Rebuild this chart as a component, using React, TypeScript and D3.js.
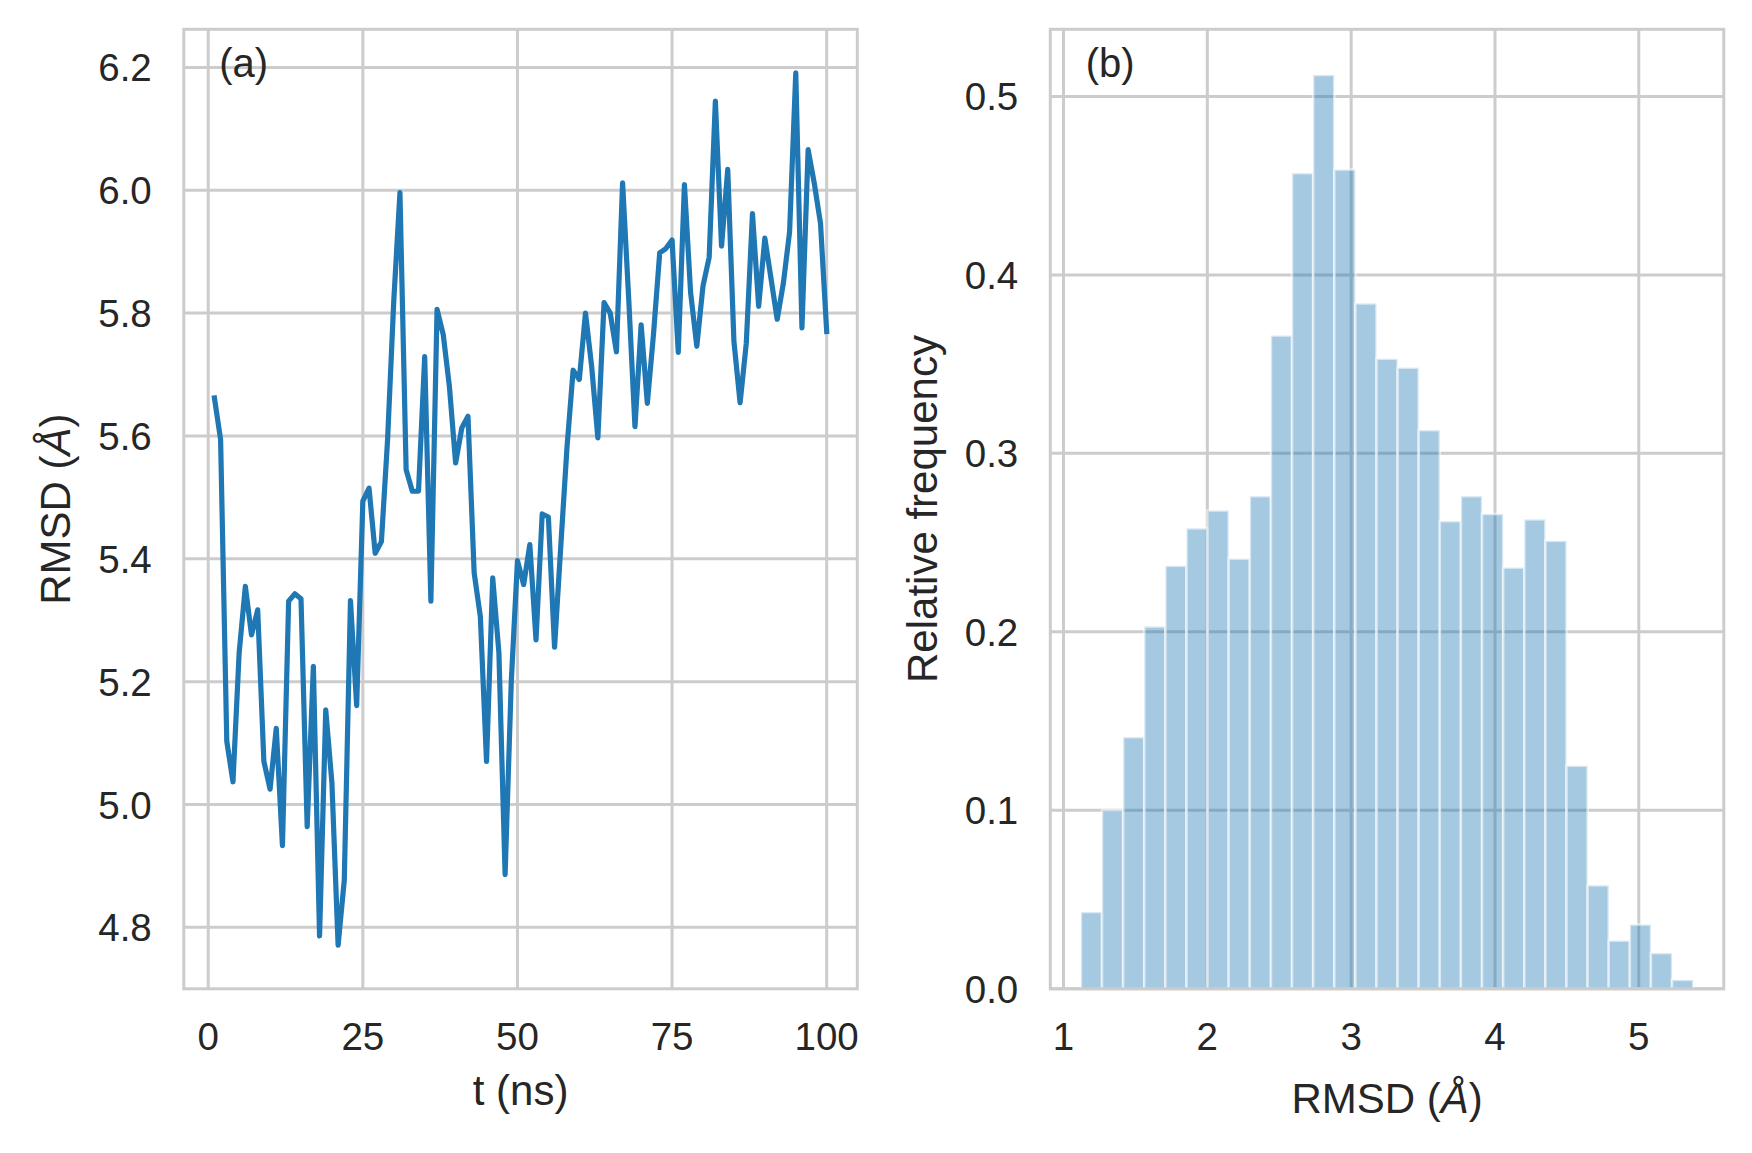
import * as d3 from 'd3';

// RMSD trace, one value per ns (t = 1..100)
const rmsd = [
  5.662, 5.594, 5.103, 5.037, 5.247, 5.355, 5.276, 5.317, 5.070, 5.025,
  5.124, 4.933, 5.331, 5.343, 5.335, 4.964, 5.225, 4.786, 5.154, 5.035,
  4.771, 4.877, 5.332, 5.161, 5.494, 5.515, 5.409, 5.428, 5.594, 5.820,
  5.996, 5.545, 5.510, 5.510, 5.729, 5.331, 5.806, 5.765, 5.680, 5.556,
  5.613, 5.632, 5.377, 5.306, 5.070, 5.369, 5.247, 4.886, 5.200, 5.397,
  5.358, 5.423, 5.268, 5.473, 5.468, 5.256, 5.420, 5.580, 5.707, 5.692,
  5.800, 5.713, 5.597, 5.817, 5.800, 5.737, 6.012, 5.821, 5.615, 5.781,
  5.653, 5.766, 5.898, 5.905, 5.919, 5.736, 6.009, 5.833, 5.746, 5.844,
  5.891, 6.145, 5.909, 6.034, 5.754, 5.654, 5.751, 5.962, 5.811, 5.922,
  5.856, 5.790, 5.849, 5.932, 6.191, 5.776, 6.066, 6.011, 5.946, 5.770,
];
const timeNs = rmsd.map((_, i) => i + 1);

// histogram of RMSD (relative frequency), equal-width bins
const binStart = 1.121;
const binWidth = 0.1468;
const binFreq = [
  0.043, 0.100, 0.141, 0.203, 0.237, 0.258, 0.268, 0.241, 0.276, 0.366,
  0.457, 0.512, 0.459, 0.384, 0.353, 0.348, 0.313, 0.262, 0.276, 0.266,
  0.236, 0.263, 0.251, 0.125, 0.058, 0.027, 0.036, 0.020, 0.005,
];

const tTicks = [0, 25, 50, 75, 100];
const rmsdTicks = [4.8, 5.0, 5.2, 5.4, 5.6, 5.8, 6.0, 6.2];
const histXTicks = [1, 2, 3, 4, 5];
const histYTicks = [0.0, 0.1, 0.2, 0.3, 0.4, 0.5];

const W = 1752;
const H = 1153;
const top = 29.3;
const bottom = 988.8;
const leftAx = { x0: 183.8, x1: 857.3 };
const rightAx = { x0: 1050.3, x1: 1723.8 };

const FONT = '"Liberation Sans", Arial, Helvetica, sans-serif';
const TEXT = '#262626';
const GRID = '#cccccc';
const BLUE = '#1f77b4';
const tickSize = 38.5;
const labelSize = 42;

function pad(lo: number, hi: number) {
  const m = (hi - lo) * 0.05;
  return [lo - m, hi + m];
}

export default function App() {
  // --- panel (a) scales ---
  const x = d3.scaleLinear()
    .domain(pad(d3.min(timeNs)!, d3.max(timeNs)!))
    .range([leftAx.x0, leftAx.x1]);
  const y = d3.scaleLinear()
    .domain(pad(d3.min(rmsd)!, d3.max(rmsd)!))
    .range([bottom, top]);

  const line = d3.line<number>()
    .x((_, i) => x(timeNs[i]))
    .y(d => y(d));

  // --- panel (b) scales ---
  const binEnd = binStart + binWidth * binFreq.length;
  const hx = d3.scaleLinear()
    .domain(pad(binStart, binEnd))
    .range([rightAx.x0, rightAx.x1]);
  const hy = d3.scaleLinear()
    .domain([0, d3.max(binFreq)! * 1.05])
    .range([bottom, top]);

  const midL = (leftAx.x0 + leftAx.x1) / 2;
  const midR = (rightAx.x0 + rightAx.x1) / 2;
  const midY = (top + bottom) / 2;

  const frame = (ax: { x0: number; x1: number }) => (
    <rect x={ax.x0} y={top} width={ax.x1 - ax.x0} height={bottom - top}
      fill="none" stroke={GRID} strokeWidth={3} />
  );

  return (
    <div style={{ position: 'absolute', left: 0, top: 0 }}>
      <svg width={W} height={H} viewBox={`0 0 ${W} ${H}`} fontFamily={FONT}
        style={{ display: 'block', background: '#fff' }}>
        <rect width={W} height={H} fill="#fff" />

        {/* ---------- (a) RMSD vs time ---------- */}
        <g>
          {tTicks.map(t => (
            <line key={'gx' + t} x1={x(t)} x2={x(t)} y1={top} y2={bottom}
              stroke={GRID} strokeWidth={3} />
          ))}
          {rmsdTicks.map(v => (
            <line key={'gy' + v} x1={leftAx.x0} x2={leftAx.x1} y1={y(v)} y2={y(v)}
              stroke={GRID} strokeWidth={3} />
          ))}
          {frame(leftAx)}
          <path d={line(rmsd)!} fill="none" stroke={BLUE} strokeWidth={5.2}
            strokeLinejoin="round" strokeLinecap="square" />

          {tTicks.map(t => (
            <text key={'tx' + t} x={x(t)} y={1050} textAnchor="middle"
              fontSize={tickSize} fill={TEXT}>{t}</text>
          ))}
          {rmsdTicks.map(v => (
            <text key={'ty' + v} x={leftAx.x0 - 32} y={y(v) + 14} textAnchor="end"
              fontSize={tickSize} fill={TEXT}>{v.toFixed(1)}</text>
          ))}
          <text x={midL} y={1105} textAnchor="middle" fontSize={labelSize} fill={TEXT}>t (ns)</text>
          <text transform={`translate(70,${midY}) rotate(-90)`} textAnchor="middle"
            fontSize={labelSize} fill={TEXT}>
            RMSD (<tspan fontStyle="italic">Å</tspan>)
          </text>
          <text x={leftAx.x0 + 35.5} y={77} fontSize={40} fill={TEXT}>(a)</text>
        </g>

        {/* ---------- (b) histogram ---------- */}
        <g>
          {histXTicks.map(t => (
            <line key={'hgx' + t} x1={hx(t)} x2={hx(t)} y1={top} y2={bottom}
              stroke={GRID} strokeWidth={3} />
          ))}
          {histYTicks.map(v => (
            <line key={'hgy' + v} x1={rightAx.x0} x2={rightAx.x1} y1={hy(v)} y2={hy(v)}
              stroke={GRID} strokeWidth={3} />
          ))}
          {binFreq.map((f, i) => {
            const lo = binStart + binWidth * i;
            return (
              <rect key={'bar' + i} x={hx(lo)} y={hy(f)}
                width={hx(lo + binWidth) - hx(lo)} height={hy(0) - hy(f)}
                fill={BLUE} fillOpacity={0.4}
                stroke="#ffffff" strokeOpacity={0.55} strokeWidth={2.6} />
            );
          })}
          {frame(rightAx)}

          {histXTicks.map(t => (
            <text key={'hx' + t} x={hx(t)} y={1050} textAnchor="middle"
              fontSize={tickSize} fill={TEXT}>{t}</text>
          ))}
          {histYTicks.map(v => (
            <text key={'hy' + v} x={rightAx.x0 - 32} y={hy(v) + 14} textAnchor="end"
              fontSize={tickSize} fill={TEXT}>{v.toFixed(1)}</text>
          ))}
          <text x={midR} y={1113} textAnchor="middle" fontSize={labelSize} fill={TEXT}>
            RMSD (<tspan fontStyle="italic">Å</tspan>)
          </text>
          <text transform={`translate(937,${midY}) rotate(-90)`} textAnchor="middle"
            fontSize={labelSize} fill={TEXT}>Relative frequency</text>
          <text x={rightAx.x0 + 35.5} y={77} fontSize={40} fill={TEXT}>(b)</text>
        </g>
      </svg>
    </div>
  );
}
